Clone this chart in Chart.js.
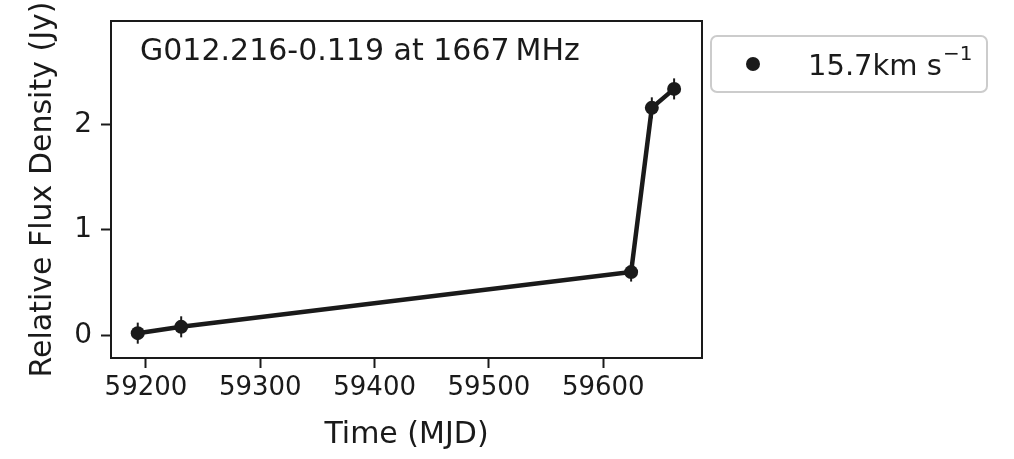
<!DOCTYPE html>
<html>
<head>
<meta charset="utf-8">
<script src="https://cdn.jsdelivr.net/npm/chart.js@4/dist/chart.umd.min.js"></script>
<style>
html,body{margin:0;padding:0;background:#fff;}
#wrap{width:1014px;height:459px;}
</style>
</head>
<body>
<div id="wrap"><canvas id="c" width="1014" height="459"></canvas></div>
<script>
// ---- data ----
const mjd = [59192.8, 59230.8, 59624.4, 59642.5, 59662.0];
const flux = [0.02, 0.08, 0.60, 2.16, 2.34];
const fluxErr = [0.10, 0.10, 0.09, 0.10, 0.10];
const xTickValues = [59200, 59300, 59400, 59500, 59600];
const yTickValues = [0, 1, 2];
const seriesLabel = "15.7km s";
const seriesLabelSup = "\u22121";
const titleText = "G012.216-0.119 at 1667\u2009MHz";
const xTitle = "Time (MJD)";
const yTitle = "Relative Flux Density (Jy)";

const FAM = "'DejaVu Sans', sans-serif";
const INK = "#1a1a1a";
const AREA = {left: 111, right: 702, top: 21, bottom: 358};

const points = mjd.map((x, i) => ({x: x, y: flux[i]}));

const framePlugin = {
  id: 'frameAndExtras',
  beforeDatasetsDraw(chart) {
    const ctx = chart.ctx;
    const xs = chart.scales.x, ys = chart.scales.y;
    ctx.save();
    ctx.strokeStyle = INK;
    ctx.lineWidth = 2;
    mjd.forEach((x, i) => {
      const px = xs.getPixelForValue(x);
      ctx.beginPath();
      ctx.moveTo(px, ys.getPixelForValue(flux[i] - fluxErr[i]));
      ctx.lineTo(px, ys.getPixelForValue(flux[i] + fluxErr[i]));
      ctx.stroke();
    });
    ctx.restore();
  },
  afterDraw(chart) {
    const ctx = chart.ctx;
    const a = chart.chartArea;
    ctx.save();
    ctx.strokeStyle = INK;
    ctx.lineWidth = 2;
    ctx.strokeRect(a.left, a.top, a.right - a.left, a.bottom - a.top);
    ctx.fillStyle = INK;
    ctx.font = "30px " + FAM;
    ctx.textBaseline = 'alphabetic';
    ctx.textAlign = 'left';
    ctx.fillText(titleText, 140, 60);
    // legend
    const lx = 711, ly = 36, lw = 276, lh = 56, r = 6;
    ctx.beginPath();
    ctx.roundRect(lx, ly, lw, lh, r);
    ctx.fillStyle = 'rgba(255,255,255,0.8)';
    ctx.fill();
    ctx.strokeStyle = '#cccccc';
    ctx.lineWidth = 2;
    ctx.stroke();
    ctx.fillStyle = INK;
    ctx.beginPath();
    ctx.arc(753, 64, 7, 0, Math.PI * 2);
    ctx.fill();
    ctx.font = "29px " + FAM;
    ctx.fillText(seriesLabel, 808, 75);
    const w = ctx.measureText(seriesLabel).width;
    ctx.font = "20px " + FAM;
    ctx.fillText(seriesLabelSup, 808 + w + 1, 60);
    ctx.restore();
  }
};

new Chart(document.getElementById('c'), {
  type: 'line',
  data: {
    datasets: [{
      label: seriesLabel,
      data: points,
      borderColor: INK,
      backgroundColor: INK,
      borderWidth: 4.5,
      pointRadius: 7,
      pointBackgroundColor: INK,
      pointBorderColor: INK,
      pointBorderWidth: 0,
      tension: 0
    }]
  },
  options: {
    responsive: false,
    devicePixelRatio: 1,
    animation: false,
    layout: {padding: {left: 25, top: AREA.top, right: 1014 - AREA.right, bottom: 6}},
    plugins: {legend: {display: false}, tooltip: {enabled: false}},
    scales: {
      x: {
        type: 'linear',
        min: 59169.4,
        max: 59686.4,
        afterFit(s) { s.height = 459 - 6 - AREA.bottom; },
        afterBuildTicks(s) { s.ticks = xTickValues.map(v => ({value: v})); },
        grid: {display: true, drawOnChartArea: false, drawTicks: true, tickLength: 10, tickWidth: 2, tickColor: INK},
        border: {display: false},
        ticks: {color: INK, font: {family: FAM, size: 26}, padding: 5, maxRotation: 0, autoSkip: false,
                callback: v => String(v)},
        title: {display: true, text: xTitle, color: INK, font: {family: FAM, size: 30}, padding: 0}
      },
      y: {
        type: 'linear',
        min: -0.216,
        max: 2.985,
        afterFit(s) { s.width = AREA.left - 25; },
        afterBuildTicks(s) { s.ticks = yTickValues.map(v => ({value: v})); },
        grid: {display: true, drawOnChartArea: false, drawTicks: true, tickLength: 10, tickWidth: 2, tickColor: INK},
        border: {display: false},
        ticks: {color: INK, font: {family: FAM, size: 28, lineHeight: 0.8}, padding: 9, autoSkip: false,
                callback: v => String(v)},
        title: {display: true, text: yTitle, color: INK, font: {family: FAM, size: 30}, padding: 0}
      }
    }
  },
  plugins: [framePlugin]
});
</script>
</body>
</html>
